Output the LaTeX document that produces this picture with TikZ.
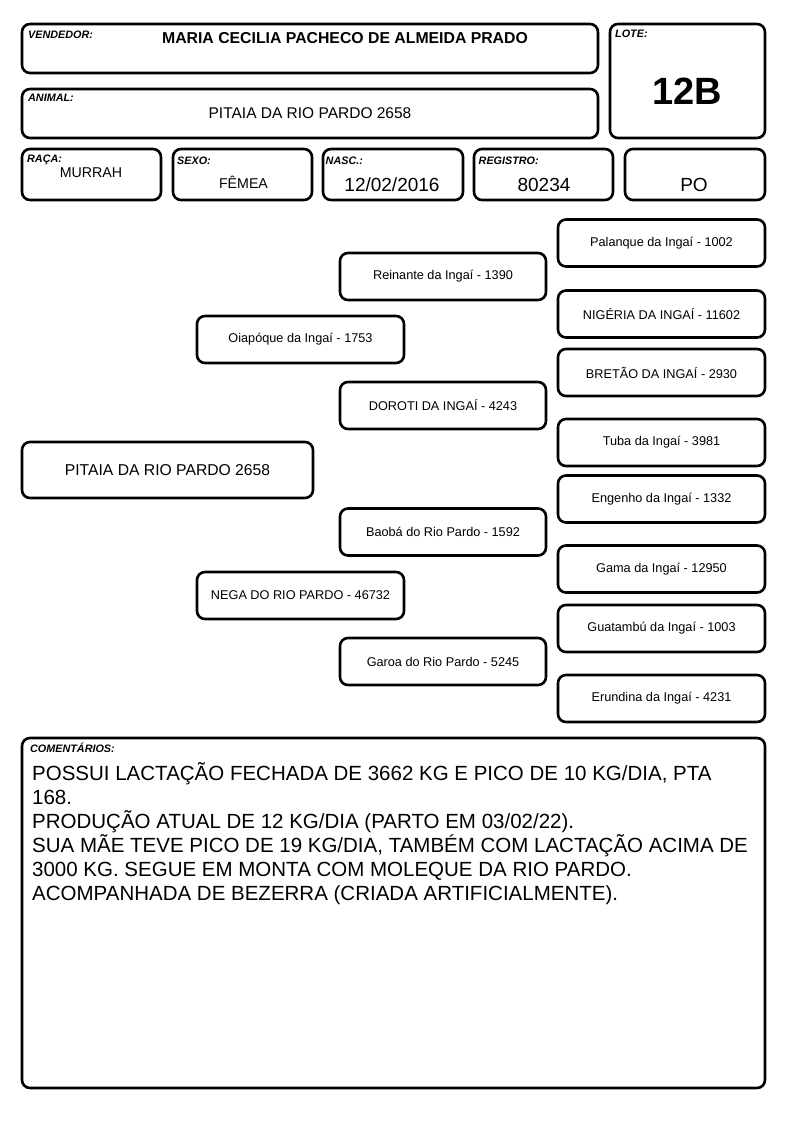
\documentclass[tikz,border=0pt]{standalone}
\usepackage{fontspec}
\setmainfont{Liberation Sans}
\begin{document}
\begin{tikzpicture}[x=1pt,y=-1pt,
  box/.style={draw=black,line width=2.6pt,rounded corners=8pt,inner sep=0pt,outer sep=0pt},
  ped/.style={box,minimum height=47pt,font=\fontsize{12.7}{14}\selectfont},
  pedr/.style={ped,minimum width=207pt},
  pedm/.style={ped,minimum width=206pt},
  pedl/.style={ped,minimum width=207pt},
  lbl/.style={anchor=base west,inner sep=0pt,font=\fontsize{10.8}{12}\selectfont\bfseries\itshape},
  val/.style={anchor=base,inner sep=0pt},
  cmt/.style={anchor=base west,inner sep=0pt,font=\fontsize{20.5}{24}\selectfont}]
\useasboundingbox (0,0) rectangle (794,1123);
% header boxes
\node[box,minimum width=576pt,minimum height=49pt] (vend) at (310,48.5) {};
\node[box,minimum width=155pt,minimum height=114pt] (lote) at (687.5,81) {};
\node[box,minimum width=576pt,minimum height=49pt] (anim) at (310,113.5) {};
\node[box,minimum width=139pt,minimum height=51pt] (raca) at (91.5,174.5) {};
\node[box,minimum width=139pt,minimum height=51pt] (sexo) at (242.5,174.5) {};
\node[box,minimum width=140pt,minimum height=51pt] (nasc) at (393,174.5) {};
\node[box,minimum width=139pt,minimum height=51pt] (reg) at (543.5,174.5) {};
\node[box,minimum width=140pt,minimum height=51pt] (po) at (695,174.5) {};
% labels
\node[lbl] (lvend) at (28,39) {VENDEDOR:};
\node[lbl] (llote) at (615,38) {LOTE:};
\node[lbl] (lanim) at (28,102) {ANIMAL:};
\node[lbl] (lraca) at (27,162.5) {RAÇA:};
\node[lbl] (lsexo) at (177,164.5) {SEXO:};
\node[lbl] (lnasc) at (325.5,164.5) {NASC.:};
\node[lbl] (lreg) at (478.5,164.5) {REGISTRO:};
% values
\node[val,font=\fontsize{15.8}{17}\selectfont\bfseries] (vvend) at (345,43.5) {MARIA CECILIA PACHECO DE ALMEIDA PRADO};
\node[val,font=\fontsize{38}{40}\selectfont\bfseries] (vlote) at (687.5,105) {12B};
\node[val,font=\fontsize{15.5}{17}\selectfont] (vanim) at (310,118.5) {PITAIA DA RIO PARDO 2658};
\node[val,font=\fontsize{14.2}{16}\selectfont] (vraca) at (91,177.5) {MURRAH};
\node[val,font=\fontsize{14.2}{16}\selectfont] (vsexo) at (243.5,189) {FÊMEA};
\node[val,font=\fontsize{19}{21}\selectfont] (vnasc) at (392,192) {12/02/2016};
\node[val,font=\fontsize{19}{21}\selectfont] (vreg) at (544,192) {80234};
\node[val,font=\fontsize{19}{21}\selectfont] (vpo) at (694,192) {PO};
% pedigree
\node[box,minimum width=291pt,minimum height=56pt,font=\fontsize{15.7}{17}\selectfont] (pit) at (167.5,470) {PITAIA DA RIO PARDO 2658};
\node[pedl] (oia) at (300.5,339.5) {Oiapóque da Ingaí - 1753};
\node[pedl] (nega) at (300.5,595.5) {NEGA DO RIO PARDO - 46732};
\node[pedm] (rein) at (443,276.5) {Reinante da Ingaí - 1390};
\node[pedm] (doro) at (443,405.5) {DOROTI DA INGAÍ - 4243};
\node[pedm] (baob) at (443,532) {Baobá do Rio Pardo - 1592};
\node[pedm] (garo) at (443,661.5) {Garoa do Rio Pardo - 5245};
\node[pedr] (pala) at (661.5,243) {Palanque da Ingaí - 1002};
\node[pedr] (nige) at (661.5,314) {NIGÉRIA DA INGAÍ - 11602};
\node[pedr] (bret) at (661.5,372.5) {BRETÃO DA INGAÍ - 2930};
\node[pedr] (tuba) at (661.5,442.5) {Tuba da Ingaí - 3981};
\node[pedr] (enge) at (661.5,499) {Engenho da Ingaí - 1332};
\node[pedr] (gama) at (661.5,569) {Gama da Ingaí - 12950};
\node[pedr] (guat) at (661.5,628.5) {Guatambú da Ingaí - 1003};
\node[pedr] (erun) at (661.5,698.5) {Erundina da Ingaí - 4231};
% comments
\node[box,minimum width=743pt,minimum height=350pt] (com) at (393.5,913) {};
\node[lbl] (lcom) at (30,752.5) {COMENTÁRIOS:};
\node[cmt] (c1) at (32,780) {POSSUI LACTAÇÃO FECHADA DE 3662 KG E PICO DE 10 KG/DIA, PTA};
\node[cmt] (c2) at (32,804) {168.};
\node[cmt] (c3) at (32,828) {PRODUÇÃO ATUAL DE 12 KG/DIA (PARTO EM 03/02/22).};
\node[cmt] (c4) at (32,852) {SUA MÃE TEVE PICO DE 19 KG/DIA, TAMBÉM COM LACTAÇÃO ACIMA DE};
\node[cmt] (c5) at (32,876) {3000 KG. SEGUE EM MONTA COM MOLEQUE DA RIO PARDO.};
\node[cmt] (c6) at (32,900) {ACOMPANHADA DE BEZERRA (CRIADA ARTIFICIALMENTE).};
\end{tikzpicture}
\end{document}
